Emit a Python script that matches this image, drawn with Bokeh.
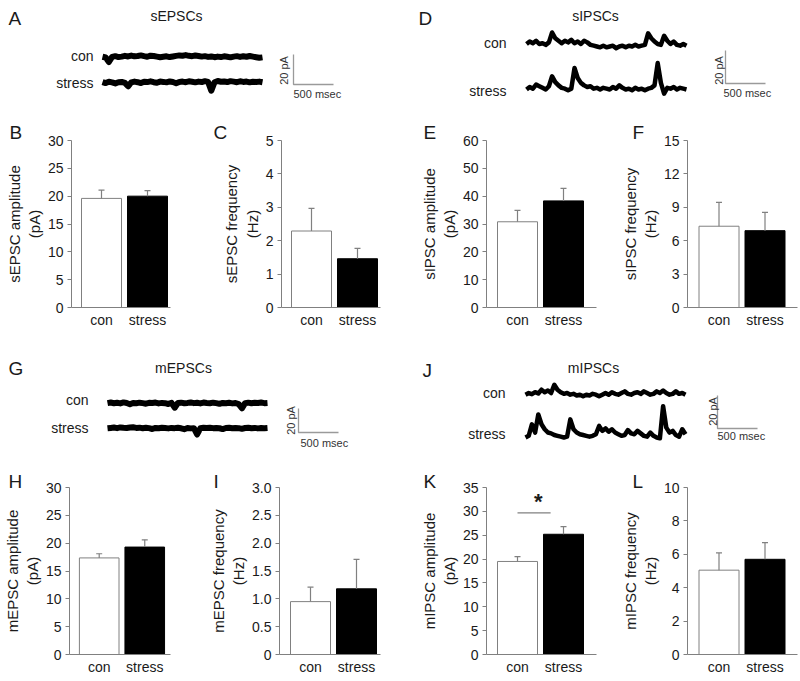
import numpy as np
from bokeh.plotting import figure
from bokeh.layouts import row, column
from bokeh.models import Range1d, FixedTicker, Label, NumeralTickFormatter, Title
from bokeh.core.properties import value
from bokeh.embed import file_html
from bokeh.resources import INLINE

FONT = "Liberation Sans"
TXT = "#1a1a1a"
GREY = "#808080"

# ---------------- data ----------------
groups = ["con", "stress"]

sEPSC_amp_mean = [19.6, 20.0]
sEPSC_amp_sem = [1.5, 1.0]
sEPSC_freq_mean = [2.29, 1.46]
sEPSC_freq_sem = [0.68, 0.31]
sIPSC_amp_mean = [30.8, 38.3]
sIPSC_amp_sem = [4.1, 4.5]
sIPSC_freq_mean = [7.3, 6.9]
sIPSC_freq_sem = [2.15, 1.65]
mEPSC_amp_mean = [17.35, 19.3]
mEPSC_amp_sem = [0.75, 1.3]
mEPSC_freq_mean = [0.95, 1.18]
mEPSC_freq_sem = [0.26, 0.53]
mIPSC_amp_mean = [19.5, 25.2]
mIPSC_amp_sem = [1.0, 1.6]
mIPSC_freq_mean = [5.05, 5.7]
mIPSC_freq_sem = [1.03, 1.0]

ticks_30 = [0, 5, 10, 15, 20, 25, 30]
ticks_5 = [0, 1, 2, 3, 4, 5]
ticks_60 = [0, 10, 20, 30, 40, 50, 60]
ticks_15 = [0, 3, 6, 9, 12, 15]
ticks_3 = [0, 0.5, 1.0, 1.5, 2.0, 2.5, 3.0]
ticks_35 = [0, 5, 10, 15, 20, 25, 30, 35]
ticks_10 = [0, 2, 4, 6, 8, 10]

# example traces (pA, relative to baseline), sampled over a 2000 ms sweep
SWEEP_MS = 2000
SCALE_MS = 500
SCALE_PA = 20
sEPSC_con = [0.5, 0.0, -3.0, 0.4, 0.9, 0.3, 0.6, 1.1, 0.7, 1.3, 0.8, 1.0, 1.4, 0.9, 0.5, 1.2, 1.0,
             0.6, 0.2, 0.5, 0.8, 0.3, 0.7, 1.1, 1.4, 1.2, 1.6, 1.1, 0.9, 1.3, 1.0, 0.6, 0.9, 0.4,
             0.7, 0.2, 0.6, 0.3, 0.8, 0.5, 0.1, 0.6, 0.9, 0.4, 0.8, 0.5, 1.0, 0.6, 0.2, -0.2, 0.1]
sEPSC_stress = [0.3, -0.4, 0.5, 0.1, -0.6, 0.2, 0.4, -0.3, -2.5, 0.1, 0.6, 0.2, -0.4, 0.5, 0.3, 0.8,
                0.2, -0.2, 0.6, 0.4, 0.1, 0.7, 0.3, -0.5, 0.4, 0.6, 0.2, 0.8, 0.5, 0.1, 0.6, 0.3,
                0.9, 0.4, -5.5, 0.2, 1.0, 0.5, 0.7, 0.3, 0.9, 0.6, 0.2, 0.8, 0.4, 0.6, 0.1, 0.5,
                0.3, 0.6, 0.2]
sIPSC_con = [1.5, 3.0, 2.0, 3.5, 1.5, 2.0, 1.0, 2.5, 8.5, 5.0, 3.5, 2.0, 3.5, 2.5, 4.0, 2.0, 3.0,
             1.5, 3.5, 2.5, 1.0, 0.5, 0.0, -0.5, 0.5, -0.5, 0.0, 0.5, -1.0, 0.0, 0.5, -0.5, 0.5,
             0.0, 1.0, 0.0, 0.5, 1.0, 8.0, 5.0, 3.0, 1.5, 1.0, 6.5, 3.5, 1.5, 3.0, 1.0, 0.5, 1.5, 0.5]
sIPSC_stress = [0.0, 1.5, 0.5, 3.0, 2.0, 1.0, 0.0, 2.0, 8.0, 4.5, 2.5, 1.0, 0.5, -0.5, 0.5, 13.0,
                7.0, 4.0, 2.5, 1.5, 2.0, 0.5, 1.0, 0.0, 1.0, 0.5, 0.0, 1.5, 0.5, 2.5, 1.0, 0.0,
                0.5, -0.5, 1.0, 0.0, 0.5, -0.5, 0.5, 1.0, 2.5, 16.0, 4.0, -2.5, 1.0, 0.5, 1.5,
                0.0, 1.0, 0.5, 0.0]
mEPSC_con = [0.3, 0.8, 0.2, 0.6, 0.1, 0.9, 0.4, -0.6, 0.5, 0.2, 0.7, 0.3, -0.2, 0.6, 0.4, 0.8, 0.1,
             0.5, 0.3, -0.4, 0.6, -3.5, 0.4, 0.7, 0.2, 0.5, 0.9, 0.3, 0.6, 0.1, 0.8, 0.4, 0.2, 0.7,
             0.3, -0.3, 0.5, 0.2, 0.6, 0.1, 0.4, -0.5, -4.0, 0.3, 0.7, 0.2, 0.6, 0.4, 0.8, 0.3, 0.5]
mEPSC_stress = [0.2, 0.5, 0.8, 0.3, 0.9, 0.6, 0.4, 0.8, 1.0, 0.5, 0.7, 0.2, 0.6, 0.3, -0.4, 0.5,
                0.2, 0.6, 0.4, 0.1, 0.5, 0.3, 0.6, 0.2, -0.6, 0.4, 0.1, 0.3, -5.0, 0.2, 0.6, 0.4,
                0.7, 0.3, 0.5, 0.2, -0.5, 0.4, 0.6, 0.2, 0.5, 0.3, -0.3, 0.4, 0.6, 0.2, 0.5, 0.1,
                0.4, 0.3, 0.5]
mIPSC_con = [0.5, 1.5, 0.8, 2.0, 1.2, 3.5, 2.0, 3.0, 1.5, 6.5, 3.5, 2.0, 1.0, 1.5, 0.5, 1.0, 0.0,
             0.5, -0.5, 0.5, 0.0, 1.0, 0.5, -0.5, 0.5, 1.5, 0.5, 2.0, 1.0, 0.5, 1.5, 2.5, 1.0, 0.5,
             1.5, 2.0, 1.0, 2.5, 1.5, 0.5, 1.0, 2.5, 1.5, 3.0, 1.5, 0.5, 1.0, 2.5, 1.0, 1.5, 0.5]
mIPSC_stress = [0.0, 1.0, 8.0, 3.0, 14.0, 8.0, 5.0, 3.0, 2.5, 1.5, 1.0, 0.5, 0.0, 0.5, 11.0, 5.0,
                3.0, 2.0, 1.5, 1.0, 0.5, 1.0, 2.0, 7.0, 4.0, 5.5, 3.5, 5.0, 3.0, 2.0, 1.0, 1.5,
                4.5, 2.5, 2.0, 4.0, 2.5, 1.0, 0.5, 3.0, 1.0, 0.0, -0.5, 19.0, 6.0, 3.0, 4.0, 1.5,
                0.5, 5.0, 2.0]


def add_label(p, x, y, text, size, align="left", baseline="top", angle=0.0, color=TXT):
    p.add_layout(Label(x=x, y=y, x_units="screen", y_units="screen", text=text,
                       text_font=FONT, text_font_size=size, text_color=color,
                       text_align=align, text_baseline=baseline, angle=angle))


def trace_panel(W, H, letter, letter_xy, title, title_xy, con_xy, stress_xy, t0_px, con_py,
                stress_py, corner, sb_h, sb_w, pa_xy, ms_xy, con_vals, stress_vals, lw):
    px_ms = sb_w / SCALE_MS
    px_pa = sb_h / SCALE_PA
    xs = -t0_px / px_ms
    ye = con_py / px_pa
    p = figure(width=W, height=H, x_range=Range1d(xs, xs + W / px_ms),
               y_range=Range1d(ye - H / px_pa, ye), x_axis_type=None, y_axis_type=None,
               output_backend="svg", toolbar_location=None, min_border=0)
    p.grid.visible = False
    p.outline_line_color = None
    off = -(stress_py - con_py) / px_pa
    n1 = len(con_vals)
    t1 = np.arange(n1) * SWEEP_MS / (n1 - 1)
    n2 = len(stress_vals)
    t2 = np.arange(n2) * SWEEP_MS / (n2 - 1)
    p.line(t1, con_vals, line_width=lw, line_color="black", line_join="round")
    p.line(t2, np.array(stress_vals) + off, line_width=lw, line_color="black", line_join="round")
    cx = (corner[0] - t0_px) / px_ms
    cy = (con_py - corner[1]) / px_pa
    p.line([cx, cx, cx + SCALE_MS], [cy + SCALE_PA, cy, cy], line_color="#9a9a9a", line_width=1.3)
    add_label(p, letter_xy[0], H - letter_xy[1], letter, "19px")
    add_label(p, title_xy[0], H - title_xy[1], title, "14px", align="center", baseline="middle")
    add_label(p, con_xy[0], H - con_xy[1], groups[0], "14px", align="right", baseline="middle")
    add_label(p, stress_xy[0], H - stress_xy[1], groups[1], "14px", align="right",
              baseline="middle")
    add_label(p, pa_xy[0], H - pa_xy[1], "%d pA" % SCALE_PA, "11px", align="center",
              baseline="middle", angle=np.pi / 2, color="#333333")
    add_label(p, ms_xy[0], H - ms_xy[1], "%d msec" % SCALE_MS, "11px", align="left",
              baseline="middle", color="#333333")
    return p


def bar_panel(W, H, letter, letter_x, ylabel, means, sems, ticks, left, top, frame_w, frame_h,
              con_off, fmt=None, sig=None, letter_standoff=-5):
    unit = 46.0
    x0 = -con_off / unit
    ymax = ticks[-1]
    ttl = Title(text=letter, align="left", offset=letter_x - left, standoff=letter_standoff,
                text_font=FONT, text_font_size="19px", text_font_style="normal",
                text_color=TXT)
    p = figure(width=W, height=H, x_range=Range1d(x0, x0 + frame_w / unit),
               y_range=Range1d(0, ymax), output_backend="svg", toolbar_location=None,
               min_border_left=left, min_border_right=W - left - frame_w,
               min_border_top=top, min_border_bottom=H - top - frame_h, title=ttl)
    p.grid.visible = False
    p.outline_line_color = None
    xs = list(range(len(groups)))
    tops = [m + s for m, s in zip(means, sems)]
    p.vbar(x=xs, top=means, bottom=0, width=40 / unit, fill_color=["white", "black"],
           line_color=[GREY, "black"], line_width=1)
    p.segment(x0=xs, y0=means, x1=xs, y1=tops, line_color=GREY, line_width=1.2)
    p.scatter(x=xs, y=tops, marker="dash", size=6, line_color=GREY, line_width=1.2)
    ax = p.xaxis[0]
    ax.ticker = FixedTicker(ticks=xs)
    ax.major_label_overrides = {i: g for i, g in enumerate(groups)}
    ax.major_tick_out = 0
    ax.major_tick_in = 0
    ax.minor_tick_out = 0
    ax.axis_line_color = GREY
    ax.major_label_standoff = 4
    ax.major_label_text_font = FONT
    ax.major_label_text_font_size = "14px"
    ax.major_label_text_color = TXT
    ay = p.yaxis[0]
    ay.ticker = FixedTicker(ticks=ticks)
    if fmt:
        ay.formatter = NumeralTickFormatter(format=fmt)
        ay.major_label_overrides = {0: "0"}
    ay.major_tick_out = 4
    ay.major_tick_in = 0
    ay.minor_tick_out = 0
    ay.minor_tick_in = 0
    ay.axis_line_color = GREY
    ay.major_tick_line_color = GREY
    ay.major_label_standoff = 4
    ay.major_label_text_font = FONT
    ay.major_label_text_font_size = "14px"
    ay.major_label_text_color = TXT
    ay.axis_label = ylabel
    ay.axis_label_standoff = 2
    ay.axis_label_text_font = FONT
    ay.axis_label_text_font_size = "15px"
    ay.axis_label_text_font_style = "normal"
    ay.axis_label_text_color = TXT
    if sig is not None:
        (sx0, sx1, sy, starx, stary) = sig
        p.line([sx0, sx1], [sy, sy], line_color=GREY, line_width=1.2)
        p.text(x=[starx], y=[stary], text=["*"], text_font=value(FONT), text_font_size="22px",
               text_font_style="bold", text_align="center", text_baseline="middle",
               text_color=TXT)
    return p


# ---------------- rows ----------------
R1, R2, R3, R4 = 118, 222, 120, 220
HW, QW = 400, 200

pA = trace_panel(HW, R1, "A", (8, 7), "sEPSCs", (176, 15), (93, 55), (93, 82), 102, 57, 82,
                 (293, 84), 30, 40, (283, 70), (293, 93), sEPSC_con, sEPSC_stress, 6)
pD = trace_panel(HW, R1, "D", (18, 7), "sIPSCs", (195, 15), (106, 42), (106, 90), 126, 46, 89,
                 (325, 83), 33, 40, (318, 70), (323, 92), sIPSC_con, sIPSC_stress, 4.5)

pB = bar_panel(QW, R2, "B", 9, "sEPSC amplitude\n(pA)", sEPSC_amp_mean, sEPSC_amp_sem,
               ticks_30, 71, 22, 99, 167, 30)
pC = bar_panel(QW, R2, "C", 13, "sEPSC frequency\n(Hz)", sEPSC_freq_mean, sEPSC_freq_sem,
               ticks_5, 81, 22, 99, 167, 30)
pE = bar_panel(QW, R2, "E", 23, "sIPSC amplitude\n(pA)", sIPSC_amp_mean, sIPSC_amp_sem,
               ticks_60, 86, 22, 110, 167, 31)
pF = bar_panel(QW, R2, "F", 32, "sIPSC frequency\n(Hz)", sIPSC_freq_mean, sIPSC_freq_sem,
               ticks_15, 87, 22, 110, 167, 31.5)

pG = trace_panel(HW, R3, "G", (8, 17), "mEPSCs", (183, 27), (88, 59), (88, 87), 107, 63, 88,
                 (298, 92), 24, 40, (290, 80), (300, 102), mEPSC_con, mEPSC_stress, 6)
pJ = trace_panel(HW, R3, "J", (22, 19), "mIPSCs", (193, 27), (105, 52), (105, 93), 125, 55, 97,
                 (317, 88), 33, 40, (312, 71), (317, 95), mIPSC_con, mIPSC_stress, 4.5)

pH = bar_panel(QW, R4, "H", 7, "mEPSC amplitude\n(pA)", mEPSC_amp_mean, mEPSC_amp_sem,
               ticks_30, 68, 27, 102, 167, 30, letter_standoff=-9)
pI = bar_panel(QW, R4, "I", 13, "mEPSC frequency\n(Hz)", mEPSC_freq_mean, mEPSC_freq_sem,
               ticks_3, 79, 27, 101, 167, 31, fmt="0.0", letter_standoff=-9)
pK = bar_panel(QW, R4, "K", 23, "mIPSC amplitude\n(pA)", mIPSC_amp_mean, mIPSC_amp_sem,
               ticks_35, 86, 27, 110, 167, 31, sig=(0.0, 0.72, 29.7, 0.45, 32.0),
               letter_standoff=-8)
pL = bar_panel(QW, R4, "L", 32, "mIPSC frequency\n(Hz)", mIPSC_freq_mean, mIPSC_freq_sem,
               ticks_10, 87, 27, 110, 167, 31.5, letter_standoff=-8)

layout = column(row(pA, pD, spacing=0), row(pB, pC, pE, pF, spacing=0),
                row(pG, pJ, spacing=0), row(pH, pI, pK, pL, spacing=0), spacing=0)

open("out.html", "w").write(file_html(layout, INLINE))
